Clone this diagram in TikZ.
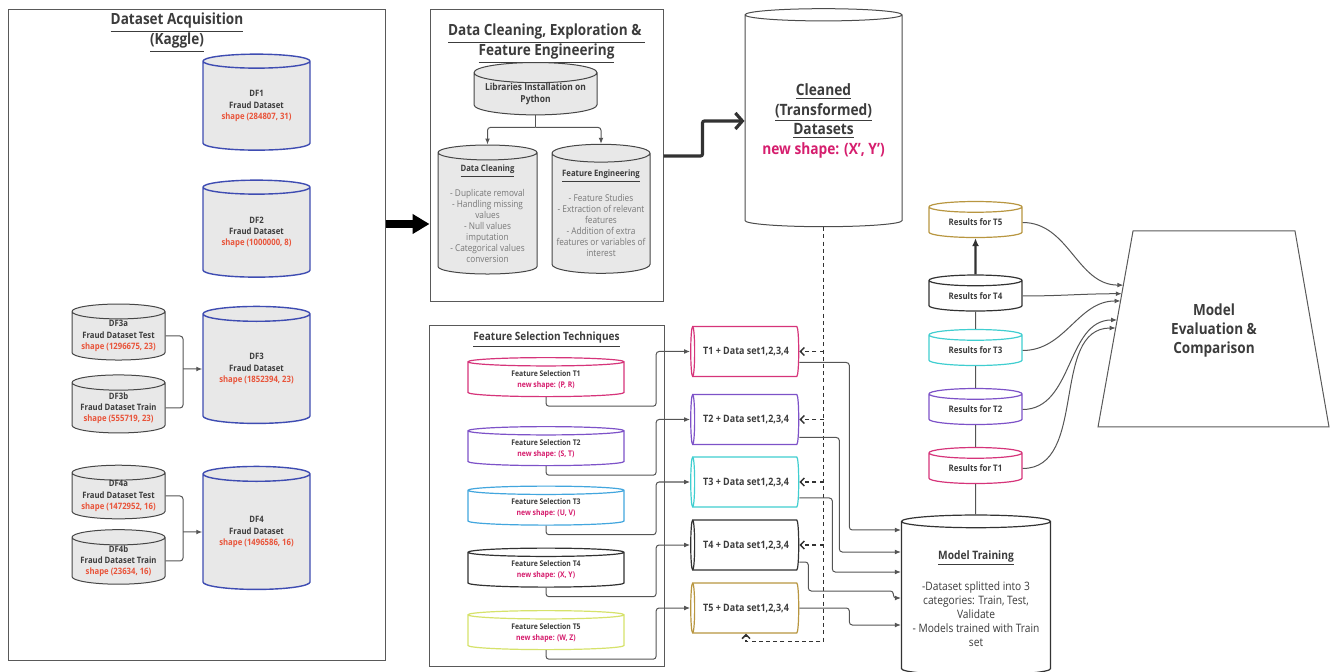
\documentclass[tikz,border=0pt]{standalone}
\usepackage{fontspec}
\setmainfont{Open Sans}[FakeStretch=0.88]
\usepackage{xcolor}
\usepackage{tikz}
\usetikzlibrary{
  arrows.meta,
  calc,
  shapes.geometric
}
\definecolor{dfblue}{RGB}{62,76,178}
\definecolor{cylgray}{RGB}{232,232,232}
\definecolor{edgegray}{RGB}{85,85,85}
\definecolor{txtgray}{RGB}{60,60,60}
\definecolor{listgray}{RGB}{120,120,120}
\definecolor{shapered}{RGB}{232,84,58}
\definecolor{newpink}{RGB}{214,30,110}
\definecolor{toneA}{RGB}{214,52,122}
\definecolor{toneB}{RGB}{125,82,200}
\definecolor{toneC}{RGB}{64,206,208}
\definecolor{toneCfs}{RGB}{66,166,222}
\definecolor{toneD}{RGB}{50,50,50}
\definecolor{toneE}{RGB}{184,150,64}
\definecolor{toneEfs}{RGB}{214,226,106}
\newcommand{\shp}[1]{\textcolor{shapered}{#1}}
\newcommand{\nshp}[1]{\textcolor{newpink}{#1}}
\newcommand{\fsz}[2]{\fontsize{#1}{#2}\selectfont}
\tikzset{
  panel/.style={draw=gray!70!black, line width=0.5pt, fill=white},
  ptitle/.style={align=center, text=txtgray, font=\fsz{7.7}{10}\bfseries},
  dfcyl/.style={cylinder, shape border rotate=90, aspect=0.2, draw=dfblue,
    line width=0.7pt, fill=cylgray, inner sep=0pt, align=center,
    text=txtgray, font=\fsz{4.4}{5.6}\bfseries, minimum width=53.5pt},
  subcyl/.style={dfcyl, draw=gray!55!black, line width=0.5pt, minimum width=46.5pt},
  greycyl/.style={dfcyl, draw=gray!55!black, line width=0.5pt},
  whitecyl/.style={cylinder, shape border rotate=90, aspect=0.1, draw=gray!60!black,
    line width=0.5pt, fill=white, inner sep=0pt, align=center, text=txtgray},
  fscyl/.style={cylinder, shape border rotate=90, aspect=0.12, line width=0.6pt,
    fill=white, inner sep=0pt, align=center, text=txtgray,
    font=\fsz{3.9}{5.5}\bfseries, minimum width=78pt, minimum height=19.5pt},
  tcyl/.style={cylinder, shape border rotate=180, aspect=0.45, line width=0.6pt,
    fill=white, inner sep=0pt, align=center, text=txtgray,
    font=\fsz{5.1}{6}\bfseries, minimum width=25pt, minimum height=54pt},
  rcyl/.style={cylinder, shape border rotate=90, aspect=0.2, line width=0.6pt,
    fill=white, inner sep=0pt, align=center, text=txtgray,
    font=\fsz{4.5}{5}\bfseries, minimum width=46.5pt, minimum height=18pt},
  link/.style={draw=edgegray, line width=0.5pt, rounded corners=1.5pt,
    >={Latex[length=3pt,width=2.4pt]}},
  fatlink/.style={draw=toneD, line width=1.1pt, -{Latex[length=4pt,width=3.5pt]}},
  dashlink/.style={draw=toneD, line width=0.75pt, dash pattern=on 2pt off 1.6pt,
    >={Straight Barb[length=2pt,width=4pt]}},
  bigarrow/.style={draw=black, line width=4pt, -{Triangle[length=8.5pt,width=9.5pt]}},
  thickarrow/.style={draw=toneD, line width=1.6pt, rounded corners=1pt,
    -{Straight Barb[length=3.5pt,width=8pt]}}
}
\begin{document}
\begin{tikzpicture}[x=0.5pt,y=-0.5pt]
  \clip (0,0) rectangle (1331,672);
  \node[panel, minimum width=188.5pt, minimum height=325pt] (acq) at (196.5,335) {};
  \node[ptitle] (acqt) at (177,33) {\underline{Dataset Acquisition}\\\underline{(Kaggle)}};
  \node[dfcyl, minimum height=48pt] (df1) at (256.5,106) {DF1\\Fraud Dataset\\\shp{shape (284807, 31)}};
  \node[dfcyl, minimum height=48.5pt] (df2) at (256.5,232.5) {DF2\\Fraud Dataset\\\shp{shape (1000000, 8)}};
  \node[dfcyl, minimum height=58.5pt] (df3) at (256.5,369) {DF3\\Fraud Dataset\\\shp{shape (1852394, 23)}};
  \node[dfcyl, minimum height=61.5pt] (df4) at (256.5,532) {DF4\\Fraud Dataset\\\shp{shape (1496586, 16)}};
  \node[subcyl, minimum height=28pt] (df3a) at (118.5,336) {DF3a\\Fraud Dataset Test\\\shp{shape (1296675, 23)}};
  \node[subcyl, minimum height=29pt] (df3b) at (118.5,408) {DF3b\\Fraud Dataset Train\\\shp{shape (555719, 23)}};
  \node[subcyl, minimum height=25pt] (df4a) at (118.5,496) {DF4a\\Fraud Dataset Test\\\shp{shape (1472952, 16)}};
  \node[subcyl, minimum height=25pt] (df4b) at (118.5,561) {DF4b\\Fraud Dataset Train\\\shp{shape (23634, 16)}};
  \coordinate (j3) at (183,369);
  \coordinate (j4) at (183,532);
  \draw [link] (df3a.east) -| (j3) (df3b.east) -| (j3);
  \draw [link,->] (j3) -- (df3.west);
  \draw [link] (df4a.east) -| (j4) (df4b.east) -| (j4);
  \draw [link,->] (j4) -- (df4.west);

  \node[panel, minimum width=116.5pt, minimum height=146pt] (prep) at (546.5,156) {};
  \node[ptitle] (prept) at (546.5,44) {\underline{Data Cleaning, Exploration \&\ }\\\underline{Feature Engineering}};
  \node[greycyl, minimum width=61.5pt, minimum height=24pt, font=\fsz{4.8}{6}\bfseries] (libs) at (535.5,94) {Libraries Installation on\\Python};
  \node[greycyl, minimum width=49.5pt, minimum height=64.5pt, font=\fsz{4.7}{5.5}, text=listgray] (dclean) at (487.5,213.5)
    {\textcolor{txtgray}{\fsz{4.4}{5.5}\bfseries\underline{Data Cleaning}}\\[5pt]- Duplicate removal\\- Handling missing\\values\\- Null values\\imputation\\- Categorical values\\conversion};
  \node[greycyl, minimum width=49pt, minimum height=64.5pt, font=\fsz{4.7}{5.5}, text=listgray] (feng) at (601,213.5)
    {\textcolor{txtgray}{\fsz{4.4}{5.5}\bfseries\underline{Feature Engineering}}\\[5pt]- Feature Studies\\- Extraction of relevant\\features\\- Addition of extra\\features or variables of\\interest};
  \coordinate (lsplit) at ([yshift=-6pt]libs.south);
  \draw [link] (libs.south) -- (lsplit);
  \draw [link,->] (lsplit) -| (dclean.north);
  \draw [link,->] (lsplit) -| (feng.north);
  \coordinate (acqout) at ([yshift=55.5pt]acq.east);
  \draw [bigarrow] (acqout) -- (acqout -| prep.west);

  \node[whitecyl, minimum width=78.5pt, minimum height=109pt, font=\fsz{7.8}{9.75}\bfseries] (clean) at (823.5,121)
    {\underline{Cleaned}\\\underline{(Transformed)}\\\underline{Datasets}\\\nshp{new shape: (X', Y')}};
  \draw [thickarrow] (prep.east) -- ++(39,0) |- (clean.west);

  \node[panel, minimum width=117.5pt, minimum height=170pt] (fsel) at (546.5,496) {};
  \node[ptitle, font=\fsz{5.7}{6}\bfseries] (fselt) at (546.5,340) {\underline{Feature Selection Techniques}};
  \node[fscyl, draw=toneA] (fs1) at (546,379.5) {Feature Selection T1\\\nshp{new shape: (P, R)}};
  \node[fscyl, draw=toneB] (fs2) at (546,448.5) {Feature Selection T2\\\nshp{new shape: (S, T)}};
  \node[fscyl, draw=toneCfs] (fs3) at (546,508) {Feature Selection T3\\\nshp{new shape: (U, V)}};
  \node[fscyl, draw=toneD] (fs4) at (546,570) {Feature Selection T4\\\nshp{new shape: (X, Y)}};
  \node[fscyl, draw=toneEfs] (fs5) at (546,632.5) {Feature Selection T5\\\nshp{new shape: (W, Z)}};

  \node[tcyl, draw=toneA] (t1) at (746,351.5) {T1 + Data set1,2,3,4};
  \node[tcyl, draw=toneB] (t2) at (746,419.5) {T2 + Data set1,2,3,4};
  \node[tcyl, draw=toneC] (t3) at (746,482) {T3 + Data set1,2,3,4};
  \node[tcyl, draw=toneD] (t4) at (746,545) {T4 + Data set1,2,3,4};
  \node[tcyl, draw=toneE] (t5) at (746,608) {T5 + Data set1,2,3,4};
  \foreach \i in {1,...,5}
    \draw [link,->] (fs\i.south) -- ++(0,9) -| ([xshift=-17pt]t\i.west) -- (t\i.west);

  \draw [dashlink,->] (clean.south) |- ([yshift=-4pt]t5.south) -- (t5.south);
  \foreach \i in {1,...,4}
    \draw [dashlink,->] (clean.south |- t\i.east) -- (t\i.east);

  \node[whitecyl, draw=gray!40!black, line width=0.6pt, minimum width=74.5pt, minimum height=80pt, font=\fsz{5.8}{7}] (mt) at (976,598.5)
    {\textbf{\underline{Model Training}}\\[7pt]-Dataset splitted into 3\\categories: Train, Test,\\Validate\\- Models trained with Train\\set};
  \draw [link,->] ([yshift=-5.5pt]t1.east) -- ++(50,0) |- (mt.west |- 0,530);
  \draw [link,->] ([yshift=-9pt]t2.east) -- ++(40,0) |- (mt.west |- 0,552);
  \draw [link,->] ([yshift=-8pt]t3.east) -- ++(33,0) |- (mt.west |- 0,572);
  \draw [link,->] ([yshift=-8.5pt]t4.east) -- ++(9,0) -- ++(0,29) -- ++(85,0) |- (mt.west |- 0,598);
  \draw [link,->] (t5.east) -- ++(50,0) |- (mt.west |- 0,625);

  \node[rcyl, draw=toneE] (r5) at (975.5,222.5) {Results for T5};
  \node[rcyl, draw=toneD] (r4) at (975.5,296) {Results for T4};
  \node[rcyl, draw=toneC] (r3) at (975.5,350.5) {Results for T3};
  \node[rcyl, draw=toneB] (r2) at (975.5,409.5) {Results for T2};
  \node[rcyl, draw=toneA] (r1) at (975.5,468.5) {Results for T1};
  \draw [link] (mt) edge[] (r1) (r1) edge[] (r2) (r2) edge[] (r3) (r3) edge[] (r4);
  \draw [fatlink] (r4) -- (r5);

  \coordinate (evtl) at (1133,231);
  \coordinate (evtr) at (1295,231);
  \coordinate (evbr) at (1329,427);
  \coordinate (evbl) at (1098,427);
  \draw [draw=gray!70!black, line width=0.5pt] (evtl) -- (evtr) -- (evbr) -- (evbl) -- cycle;
  \node[align=center, text=txtgray, font=\fsz{7.7}{9.5}\bfseries] (ev) at (1214,331) {Model\\Evaluation \&\\Comparison};
  \coordinate (e5) at ($(evtl)!0.276!(evbl)$);
  \coordinate (e4) at ($(evtl)!0.32!(evbl)$);
  \coordinate (e3) at ($(evtl)!0.357!(evbl)$);
  \coordinate (e2) at ($(evtl)!0.454!(evbl)$);
  \coordinate (e1) at ($(evtl)!0.495!(evbl)$);
  \foreach \i in {1,...,5}
    \draw [link,->] (r\i.east) to[out=0,in=180] (e\i);
\end{tikzpicture}
\end{document}
